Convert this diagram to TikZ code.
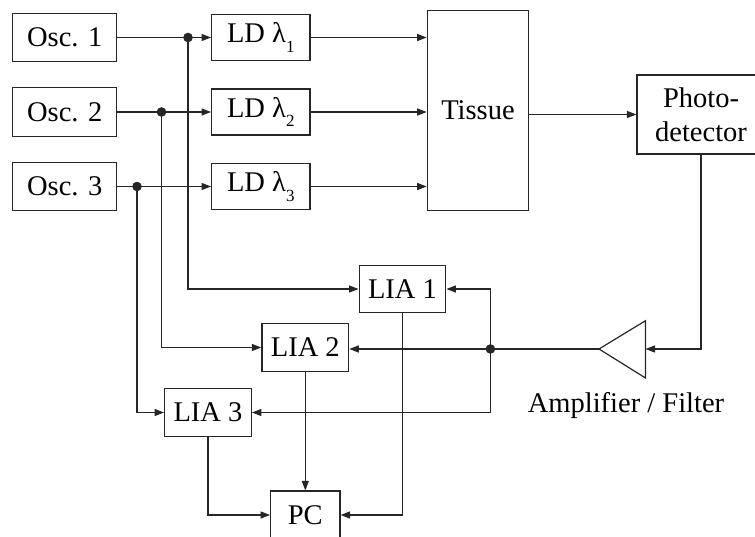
\documentclass[tikz,border=0pt]{standalone}
\usepackage{fontspec}
\setmainfont{Liberation Serif}
\usetikzlibrary{arrows.meta}
\newcommand{\ldsub}[1]{\raisebox{-0.32em}{\fontsize{17}{17}\selectfont #1}}
\tikzset{
    blk/.style={draw=black!85, line width=1.2pt, inner sep=0pt, align=center,
        font=\fontsize{28.5}{34}\selectfont},
    lbl/.style={inner sep=0pt, font=\fontsize{28.5}{34}\selectfont},
    >={Triangle[length=9.5pt,width=7pt]},
}
\begin{document}
\begin{tikzpicture}[x=1pt,y=-1pt, line width=1.2pt, draw=black!85]
    \useasboundingbox (0,0) rectangle (755,536);

    % oscillators and laser diodes
    \node[blk, minimum width=104, minimum height=48.5] (osc1) at (64.7,37.5) {Osc. 1};
    \node[blk, minimum width=104, minimum height=48.5] (osc2) at (64.7,112) {Osc. 2};
    \node[blk, minimum width=104, minimum height=48.5] (osc3) at (64.7,186.5) {Osc. 3};
    \node[blk, minimum width=98.3, minimum height=46] (ld1) at (260.8,37.5) {LD λ\ldsub{1}};
    \node[blk, minimum width=98.3, minimum height=46] (ld2) at (260.8,112) {LD λ\ldsub{2}};
    \node[blk, minimum width=98.3, minimum height=46] (ld3) at (260.8,186.5) {LD λ\ldsub{3}};

    % tissue and detector
    \node[blk, minimum width=101.4, minimum height=200] (tissue) at (478,110.7) {Tissue};
    \node[blk, minimum width=128, minimum height=79] (pd) at (701,114.5) {Photo-\\detector};

    % lock-in amplifiers and PC
    \node[blk, minimum width=86.7, minimum height=47.7] (lia1) at (402.5,289) {LIA 1};
    \node[blk, minimum width=86.7, minimum height=48.4] (lia2) at (305.3,347.5) {LIA 2};
    \node[blk, minimum width=86.7, minimum height=48.4] (lia3) at (208,412.5) {LIA 3};
    \node[blk, minimum width=69.3, minimum height=48] (pc) at (305.3,515) {PC};

    % amplifier / filter
    \coordinate (amptip) at (599,349);
    \coordinate (ampin) at (645.5,349);
    \draw (645.5,320.7) -- (amptip) -- (645.5,378) -- cycle;
    \node[lbl, anchor=base] (amplbl) at (626,412) {Amplifier / Filter};

    % branch points
    \coordinate (j1) at (188,37.5);
    \coordinate (j2) at (161.5,112);
    \coordinate (j3) at (137,186.5);
    \coordinate (split) at (490.4,349);

    % connections
    \draw[->] (osc1) -- (ld1);
    \draw[->] (osc2) -- (ld2);
    \draw[->] (osc3) -- (ld3);
    \draw[->] (ld1) -- (ld1 -| tissue.west);
    \draw[->] (ld2) -- (ld2 -| tissue.west);
    \draw[->] (ld3) -- (ld3 -| tissue.west);
    \draw[->] (tissue.east |- pd.west) -- (pd.west);
    \draw[->] (pd.south) |- (ampin);
    \draw (amptip) -- (split);
    \draw[->] (split) -- (split -| lia2.east);
    \draw[->] (split) |- (lia1.east);
    \draw[->] (split) |- (lia3.east);
    \draw[->] (j1) |- (lia1.west);
    \draw[->] (j2) |- (lia2.west);
    \draw[->] (j3) |- (lia3.west);
    \draw[->] (lia2) -- (pc);
    \draw[->] (lia1.south) |- (pc.east);
    \draw[->] (lia3.south) |- (pc.west);
    \fill[black!85] (j1) circle (4.8) (j2) circle (4.8) (j3) circle (4.8) (split) circle (4.8);
\end{tikzpicture}
\end{document}
